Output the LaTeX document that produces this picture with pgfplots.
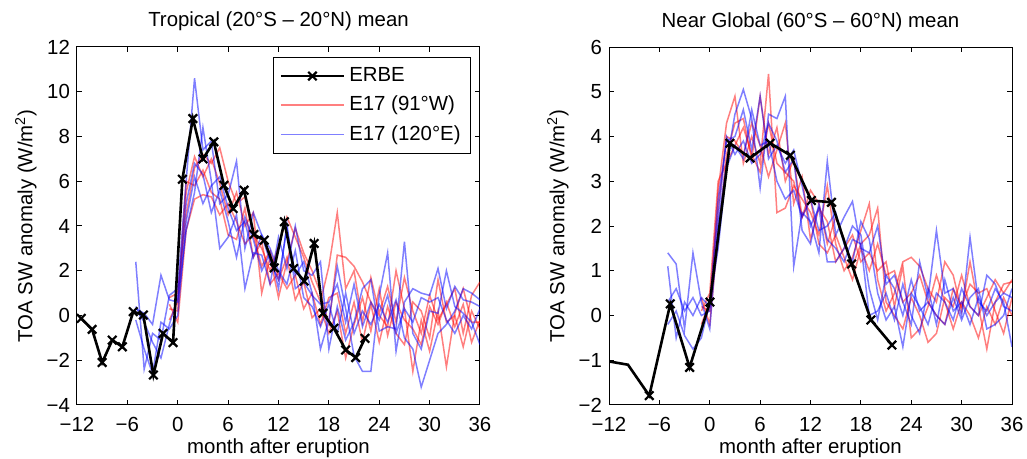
\documentclass[border=0pt]{standalone}
\usepackage{fontspec}
\setmainfont{Liberation Sans}
\usepackage{pgfplots}
\usepackage{pgfplotstable}
\pgfplotsset{compat=1.18}

% ERBE, tropical mean
\pgfplotstableread{
m v
-11.5 -0.13
-10.2 -0.62
-9.0 -2.1
-7.8 -1.1
-6.6 -1.4
-5.3 0.17
-4.1 0.02
-2.9 -2.66
-1.75 -0.8
-0.56 -1.21
0.55 6.09
1.8 8.8
3.0 7.0
4.3 7.76
5.5 5.82
6.6 4.78
7.9 5.6
9.06 3.62
10.3 3.37
11.5 2.13
12.7 4.19
13.8 2.1
15.06 1.54
16.25 3.22
17.3 0.1
18.6 -0.57
20.0 -1.54
21.2 -1.88
22.3 -1.02
}\erbetrop

% ERBE, near global mean
\pgfplotstableread{
m v
-12.2 -1.02
-9.74 -1.1
-7.2 -1.79
-4.7 0.26
-2.4 -1.16
0.02 0.30
2.4 3.85
4.8 3.52
7.2 3.85
9.6 3.58
12.1 2.57
14.5 2.53
16.9 1.15
19.2 -0.10
21.7 -0.66
}\erbeglob

% E17 members, tropical: r = 91W, b = 120E
\pgfplotstableread{
m r1 r2 r3 r4 b1 b2 b3 b4
-5 nan nan nan nan 2.4 0.3 -0.2 0.4
-4 nan nan nan nan -2.4 0.1 -1.5 -0.3
-3 nan nan nan nan -0.8 -0.4 -2.6 -1.2
-2 nan nan nan nan -1.1 1.8 -0.3 -1.9
-1 0.8 0.3 -0.2 0.5 0.9 0.7 -0.6 -0.4
0 1.0 0.2 0.6 -0.3 1.2 0.6 0.0 0.8
1 4.5 5.5 6.0 3.8 6.0 3.8 4.2 5.0
2 6.6 7.1 5.8 5.2 10.6 5.5 6.2 6.8
3 7.2 6.2 6.5 5.4 7.4 8.4 5.0 6.3
4 6.8 7.0 5.5 5.3 7.8 6.0 5.8 4.6
5 7.5 5.9 5.2 4.5 5.0 3.0 6.2 5.6
6 6.0 4.5 3.6 5.0 5.4 3.5 4.8 4.2
7 5.0 5.5 3.4 4.2 6.9 4.5 3.8 2.6
8 5.3 4.0 4.8 3.2 3.0 1.2 4.2 4.4
9 3.6 4.6 2.6 3.6 4.6 2.8 2.6 3.4
10 3.0 1.0 3.3 2.2 3.6 2.7 3.6 2.0
11 2.0 2.6 1.4 2.9 2.4 1.4 3.0 2.8
12 3.1 0.8 1.9 1.6 1.6 3.5 2.0 1.2
13 4.4 2.4 1.2 2.6 3.9 2.1 1.4 4.1
14 3.5 3.9 1.8 0.7 1.8 4.0 2.9 1.2
15 2.6 2.8 0.3 1.5 2.4 2.0 0.8 1.5
16 1.5 2.0 1.0 -0.1 1.0 1.8 0.4 0.9
17 0.6 1.0 -0.4 0.3 -1.5 2.4 -0.5 0.5
18 2.2 -0.4 0.8 -0.8 -0.2 -1.5 0.5 0.6
19 4.6 2.7 1.0 0.2 2.2 0.4 -0.8 1.4
20 1.2 2.6 -0.8 -1.9 0.3 -1.1 1.0 -0.3
21 2.0 2.2 0.6 -0.4 -1.8 -0.3 -0.8 1.4
22 -0.3 1.5 -1.2 0.8 -2.5 1.2 0.2 -0.5
23 1.7 0.6 0.5 -0.7 -2.5 1.6 -0.4 0.6
24 0.1 0.0 -1.2 1.2 0.9 -0.7 0.5 -0.2
25 1.3 -0.5 0.4 -0.9 2.8 -0.5 -0.3 0.9
26 -0.3 2.0 -0.8 0.6 -1.6 -0.6 0.7 -0.8
27 1.7 0.3 -1.3 -0.2 0.6 3.3 -1.0 0.3
28 0.2 -2.5 0.6 -0.6 1.2 -0.8 -1.5 -0.3
29 -0.8 -0.2 0.2 -1.3 1.0 -1.5 -3.2 0.8
30 0.9 -1.6 -1.0 0.4 0.9 0.2 -2.0 0.6
31 -0.2 0.2 1.6 -0.4 2.1 0.1 -0.8 0.8
32 0.5 -2.3 -0.3 0.6 0.3 2.0 -0.4 -0.2
33 1.2 0.1 0.0 -0.5 1.3 0.4 0.2 -0.8
34 -0.8 1.2 -1.4 0.5 0.7 0.1 1.2 0.0
35 0.9 -0.3 0.2 -1.2 0.6 -0.3 1.0 -0.6
36 1.5 -0.3 -0.6 -0.2 0.4 -1.3 0.7 0.3
}\enstrop

% E17 members, near global
\pgfplotstableread{
m r1 r2 r3 r4 b1 b2 b3 b4
-5 nan nan nan nan 1.4 1.1 -0.2 0.3
-4 nan nan nan nan 1.15 -0.5 0.1 0.6
-3 nan nan nan nan -0.3 0.3 -0.45 0.1
-2 nan nan nan nan 1.4 0.0 -0.75 0.4
-1 0.2 0.4 -0.2 0.1 0.3 0.4 -0.5 0.0
0 0.1 -0.2 0.3 0.5 -0.3 0.2 0.3 0.1
1 2.8 1.8 2.4 3.0 2.0 2.6 1.5 2.2
2 4.3 3.6 4.0 3.4 3.4 3.9 3.3 4.0
3 4.9 4.3 3.9 3.8 4.5 4.0 3.8 3.6
4 3.4 4.4 3.6 4.2 5.05 4.6 3.5 3.9
5 4.0 3.5 4.3 3.6 4.4 3.7 4.6 3.4
6 3.4 4.9 3.8 3.2 2.85 4.9 3.8 3.6
7 5.4 3.6 3.1 4.3 4.5 3.5 3.9 4.3
8 2.3 4.2 3.7 3.4 4.4 3.8 3.0 3.9
9 2.4 3.0 4.3 3.2 4.9 3.4 2.6 3.2
10 2.9 3.5 2.5 3.0 1.1 3.7 2.8 3.5
11 2.6 2.2 3.1 2.2 2.3 2.9 2.2 1.9
12 2.3 2.8 1.7 2.6 2.1 2.0 2.6 1.6
13 1.8 2.5 2.4 1.6 1.4 2.4 1.9 2.5
14 2.9 1.6 2.1 1.4 3.45 1.2 2.0 1.7
15 1.6 2.2 1.2 1.8 1.8 1.2 2.3 1.5
16 1.0 1.7 1.5 1.3 2.2 1.5 1.6 1.2
17 1.3 1.1 1.8 0.8 2.55 2.0 1.2 1.7
18 1.9 1.6 1.2 1.5 1.5 1.8 2.1 1.6
19 2.5 1.8 1.4 1.0 1.4 0.6 1.7 0.0
20 0.8 2.4 1.0 1.6 2.0 -0.1 0.5 0.1
21 0.1 0.3 1.2 0.9 0.7 0.9 -0.1 0.5
22 0.5 0.0 0.2 1.0 0.9 0.6 0.2 -0.1
23 1.2 -0.3 1.1 0.3 0.3 0.0 -0.7 0.7
24 1.3 0.4 -0.5 0.5 -0.2 0.8 0.5 0.0
25 1.1 0.0 -0.3 0.9 1.2 0.1 0.2 -0.4
26 0.6 -0.6 0.2 0.3 0.4 0.3 -0.2 0.6
27 0.3 -0.4 0.9 0.0 1.9 0.0 0.5 -0.2
28 1.2 0.4 0.3 -0.2 0.5 -0.2 0.3 0.8
29 0.9 0.2 -0.3 0.6 0.6 0.4 -0.1 0.1
30 0.1 0.9 0.3 0.2 0.0 -0.1 0.6 0.3
31 1.2 0.2 0.0 0.7 1.75 0.4 0.2 -0.2
32 0.2 0.0 -0.5 0.5 0.3 0.6 0.0 0.4
33 -0.75 0.4 0.2 0.6 0.1 -0.3 0.9 0.0
34 0.3 0.8 -0.2 0.1 0.6 -0.2 0.7 0.3
35 0.7 0.5 0.4 -0.4 0.3 0.0 0.2 0.5
36 0.75 0.8 0.0 0.4 -0.7 0.6 0.1 0.4
}\ensglob

\pgfplotsset{
  panel/.style={
    scale only axis, width=201.5pt, height=179pt, anchor=south west,
    xmin=-12, xmax=36, xtick={-12,-6,...,36},
    xticklabels={−12,−6,0,6,12,18,24,30,36},
    tick align=inside, major tick length=2.5pt,
    every tick/.style={black, line width=0.5pt},
    axis line style={line width=0.5pt},
    font=\fontsize{10.2}{12}\selectfont,
    xticklabel style={yshift=-2.5pt},
    title style={at={(axis description cs:0.5,1)}, anchor=base, yshift=4pt},
    xlabel style={at={(axis description cs:0.5,0)}, anchor=base, yshift=-24.5pt},
    ylabel style={at={([xshift=-22.3pt]axis description cs:0,0.5)}, anchor=base},
    xlabel={month after eruption},
    ylabel={TOA SW anomaly (W/m\textsuperscript{2})},
  },
  redens/.style={red, opacity=0.5, line width=0.75pt, forget plot},
  blueens/.style={blue, opacity=0.5, line width=0.75pt, forget plot},
  erbe/.style={black, line width=1.3pt, mark=x, mark size=3pt,
    mark options={line width=1.1pt}},
}

\begin{document}
\begin{tikzpicture}
\path[use as bounding box] (0,0) rectangle (513.5pt,229.5pt);

\begin{axis}[panel, at={(38.5pt,27pt)},
  title={Tropical (20°S – 20°N) mean},
  ymin=-4, ymax=12, ytick={-4,-2,...,12},
  yticklabels={−4,−2,0,2,4,6,8,10,12},
  legend image code/.code={\draw[mark repeat=2,mark phase=2]
    plot coordinates {(0pt,0pt) (15.75pt,0pt) (31.5pt,0pt)};},
  legend style={at={(0.978,0.972)}, anchor=north east, draw=black,
    line width=0.5pt, font=\fontsize{10.2}{12}\selectfont,
    cells={anchor=west}, inner xsep=3pt, inner ysep=3pt, row sep=1.8pt},
]
\addlegendimage{erbe}
\addlegendentry{ERBE}
\addlegendimage{red, opacity=0.5, line width=0.75pt}
\addlegendentry{E17 (91°W)}
\addlegendimage{blue, opacity=0.5, line width=0.75pt}
\addlegendentry{E17 (120°E)}
\addplot[redens] table[x=m, y=r1] {\enstrop};
\addplot[redens] table[x=m, y=r2] {\enstrop};
\addplot[redens] table[x=m, y=r3] {\enstrop};
\addplot[redens] table[x=m, y=r4] {\enstrop};
\addplot[blueens] table[x=m, y=b1] {\enstrop};
\addplot[blueens] table[x=m, y=b2] {\enstrop};
\addplot[blueens] table[x=m, y=b3] {\enstrop};
\addplot[blueens] table[x=m, y=b4] {\enstrop};
\addplot[erbe, forget plot] table[x=m, y=v] {\erbetrop};
\end{axis}

\begin{axis}[panel, at={(304.5pt,27pt)},
  title={Near Global (60°S – 60°N) mean},
  ymin=-2, ymax=6, ytick={-2,-1,...,6},
  yticklabels={−2,−1,0,1,2,3,4,5,6},
]
\addplot[redens] table[x=m, y=r1] {\ensglob};
\addplot[redens] table[x=m, y=r2] {\ensglob};
\addplot[redens] table[x=m, y=r3] {\ensglob};
\addplot[redens] table[x=m, y=r4] {\ensglob};
\addplot[blueens] table[x=m, y=b1] {\ensglob};
\addplot[blueens] table[x=m, y=b2] {\ensglob};
\addplot[blueens] table[x=m, y=b3] {\ensglob};
\addplot[blueens] table[x=m, y=b4] {\ensglob};
\addplot[erbe, forget plot, mark indices={2,...,15}] table[x=m, y=v] {\erbeglob};
\end{axis}
\end{tikzpicture}
\end{document}
